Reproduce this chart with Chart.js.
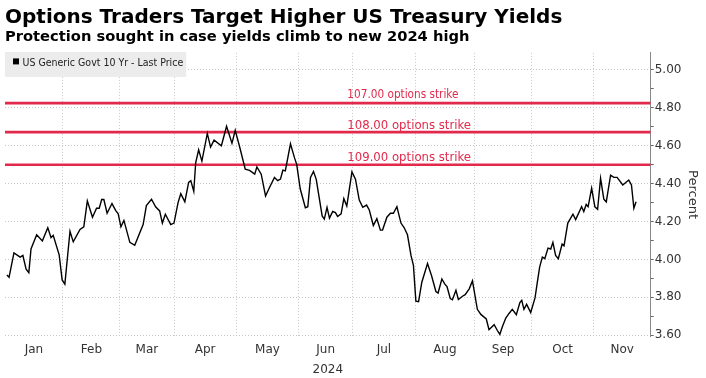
<!DOCTYPE html>
<html>
<head>
<meta charset="utf-8">
<script src="https://cdn.jsdelivr.net/npm/chart.js@4/dist/chart.umd.min.js"></script>
<style>
html,body{margin:0;padding:0;background:#fff;}
#wrap{width:706px;height:378px;}
</style>
</head>
<body>
<div id="wrap"><canvas id="c" width="706" height="378"></canvas></div>
<script>
// ---- data (x = weekday index from 1 Jan 2024, y = yield %) ----
const tradeDay = [
  2.3,3.1,4.9,7.2,8.2,9.4,10.4,11.2,13.3,15.4,
  17.4,18.6,19.4,21.6,22.7,23.7,25.6,26.8,29.3,30.7,
  32.0,33.9,35.4,36.4,37.3,38.1,39.3,41.1,42.5,43.4,
  44.4,45.5,47.7,49.5,52.6,53.8,55.7,57.2,58.7,59.7,
  60.8,62.8,64.0,65.5,66.5,68.0,69.4,70.2,71.3,72.0,
  73.1,74.3,76.3,77.5,78.8,81.5,83.4,85.4,86.6,88.2,
  90.3,91.9,93.8,94.6,96.2,97.8,99.3,101.1,102.3,103.3,
  104.2,105.1,107.0,108.5,109.3,110.6,112.5,113.4,114.4,115.5,
  116.5,118.7,119.5,120.5,121.4,122.6,123.6,124.4,125.7,126.7,
  127.8,129.7,131.0,132.4,133.7,135.1,136.1,137.6,138.9,140.2,
  141.0,142.6,143.9,145.0,146.3,147.8,149.0,150.2,151.5,152.4,
  153.3,154.3,155.5,157.6,159.1,160.7,161.5,162.9,164.0,164.8,
  166.0,166.8,168.1,169.0,170.5,171.5,173.0,174.2,176.0,177.3,
  179.3,180.3,182.2,183.4,184.3,185.2,186.5,187.7,188.9,190.4,
  191.7,192.4,193.2,194.2,195.7,197.3,198.1,199.0,200.0,200.9,
  202.1,203.1,203.9,204.9,205.9,207.3,208.0,209.4,211.3,212.3,
  214.5,215.3,216.2,216.9,218.2,219.4,220.4,221.5,222.7,223.6,
  225.2,226.4,227.6,229.7,231.9,232.9,233.8,234.6
];
const yield10y = [
  3.918,3.906,4.035,4.012,4.021,3.948,3.930,4.055,4.130,4.098,
  4.167,4.115,4.127,4.024,3.892,3.870,4.149,4.093,4.158,4.172,
  4.309,4.223,4.270,4.270,4.316,4.316,4.244,4.295,4.258,4.241,
  4.172,4.206,4.090,4.075,4.184,4.284,4.318,4.278,4.256,4.192,
  4.239,4.184,4.192,4.300,4.347,4.304,4.407,4.416,4.359,4.510,
  4.579,4.519,4.665,4.593,4.630,4.600,4.703,4.613,4.682,4.596,
  4.476,4.470,4.450,4.488,4.450,4.335,4.381,4.433,4.416,4.424,
  4.471,4.467,4.610,4.536,4.502,4.373,4.273,4.278,4.433,4.464,
  4.424,4.230,4.213,4.275,4.218,4.253,4.247,4.227,4.241,4.321,
  4.282,4.462,4.424,4.313,4.275,4.287,4.261,4.179,4.215,4.155,
  4.155,4.223,4.244,4.244,4.278,4.192,4.167,4.130,4.021,3.969,
  3.780,3.777,3.880,3.978,3.914,3.831,3.823,3.897,3.870,3.857,
  3.794,3.787,3.837,3.789,3.806,3.814,3.845,3.887,3.737,3.710,
  3.686,3.629,3.656,3.625,3.605,3.643,3.691,3.715,3.737,3.708,
  3.772,3.784,3.737,3.763,3.720,3.797,3.875,3.960,4.012,4.004,
  4.060,4.055,4.090,4.021,4.004,4.081,4.072,4.192,4.239,4.210,
  4.278,4.253,4.290,4.278,4.376,4.278,4.265,4.428,4.318,4.304,
  4.445,4.433,4.433,4.393,4.419,4.393,4.270,4.304
];
const seriesName = 'US Generic Govt 10 Yr - Last Price';
const monthNames = ['Jan','Feb','Mar','Apr','May','Jun','Jul','Aug','Sep','Oct','Nov'];
const monthStart = [0,23,44,64,87,110,130,153,175,196,219,240];
const yearLabel = '2024';
const strikeNames = ['107.00 options strike','108.00 options strike','109.00 options strike'];
const strikeYields = [4.825, 4.672, 4.50];
const yTickValues = [3.6,3.7,3.8,3.9,4.0,4.1,4.2,4.3,4.4,4.5,4.6,4.7,4.8,4.9,5.0];

// ---- axis limits ----
const X_MIN = 1.6, X_MAX = 240;
const Y_MIN = 3.595, Y_MAX = 5.09;

const FONT = "'DejaVu Sans', sans-serif";
const FONT_C = "'DejaVu Sans Condensed', 'DejaVu Sans', sans-serif";
const RED = '#e2294c';

const boundaryTicks = monthStart.filter(v => v > X_MIN && v <= X_MAX);
const midTicks = monthNames.map((m, i) => (Math.max(monthStart[i], X_MIN) + monthStart[i + 1]) / 2);
const isBoundary = v => boundaryTicks.some(b => Math.abs(b - v) < 1e-6);
const isMajorY = v => Math.round(v * 10) % 2 === 0;

const lineData = tradeDay.map((d, i) => ({x: d, y: yield10y[i]}));
const strikeSets = strikeNames.map((n, i) => ({
  label: n,
  data: [{x: X_MIN, y: strikeYields[i]}, {x: X_MAX, y: strikeYields[i]}],
  borderColor: RED,
  backgroundColor: RED,
  borderWidth: 2.6,
  pointRadius: 0,
  tension: 0
}));

const strikeLabelPlugin = {
  id: 'strikeLabels',
  afterDatasetsDraw(chart, args, o) {
    const {ctx, scales: {x, y}} = chart;
    ctx.save();
    ctx.fillStyle = o.color;
    ctx.textAlign = 'left';
    ctx.textBaseline = 'alphabetic';
    strikeNames.forEach((name, i) => {
      ctx.font = o.fonts[i];
      ctx.fillText(name, x.getPixelForValue(o.xValue), y.getPixelForValue(strikeYields[i]) - o.gaps[i]);
    });
    ctx.restore();
  }
};

const legendBoxPlugin = {
  id: 'legendBox',
  afterDatasetsDraw(chart, args, o) {
    const {ctx, chartArea} = chart;
    const ds = chart.data.datasets[0];
    ctx.save();
    ctx.font = o.font;
    const tw = ctx.measureText(ds.label).width;
    const x0 = chartArea.left, y0 = chartArea.top - 1;
    const w = o.padLeft + o.box + o.gap + tw + o.padRight;
    ctx.fillStyle = o.bg;
    ctx.fillRect(x0, y0, w, o.height);
    ctx.fillStyle = '#000';
    ctx.fillRect(x0 + o.padLeft, y0 + o.boxTop, o.box, o.box);
    ctx.fillStyle = o.color;
    ctx.textBaseline = 'middle';
    ctx.textAlign = 'left';
    ctx.fillText(ds.label, x0 + o.padLeft + o.box + o.gap, y0 + o.textMid);
    ctx.restore();
  }
};

new Chart(document.getElementById('c'), {
  type: 'line',
  data: {
    datasets: [
      {
        label: seriesName,
        data: lineData,
        borderColor: '#000',
        backgroundColor: '#000',
        borderWidth: 1.4,
        pointRadius: 0,
        tension: 0
      },
      ...strikeSets
    ]
  },
  options: {
    responsive: false,
    animation: false,
    devicePixelRatio: 1,
    layout: {padding: {left: 5, right: 4, top: 0, bottom: 1}},
    plugins: {
      legend: {display: false},
      tooltip: {enabled: false},
      title: {
        display: true,
        text: 'Options Traders Target Higher US Treasury Yields',
        align: 'start',
        color: '#000',
        font: {family: FONT, size: 20, weight: 'bold', lineHeight: 1.15},
        padding: {top: 6, bottom: 0}
      },
      subtitle: {
        display: true,
        text: 'Protection sought in case yields climb to new 2024 high',
        align: 'start',
        color: '#000',
        font: {family: FONT, size: 14.7, weight: 'bold', lineHeight: 1.15},
        padding: {top: 0, bottom: 7}
      },
      strikeLabels: {
        color: RED,
        xValue: 128,
        fonts: ['11.7px ' + FONT_C, '13px ' + FONT_C, '13px ' + FONT_C],
        gaps: [5, 3.5, 3.5]
      },
      legendBox: {
        font: '10.5px ' + FONT_C,
        color: '#222',
        bg: '#ececec',
        padLeft: 8, box: 6, gap: 3.5, padRight: 3,
        height: 25, boxTop: 6.5, textMid: 11.5
      }
    },
    scales: {
      x: {
        type: 'linear',
        min: X_MIN,
        max: X_MAX,
        afterBuildTicks: (s) => {
          s.ticks = [...boundaryTicks, ...midTicks].sort((a, b) => a - b).map(v => ({value: v}));
        },
        ticks: {
          autoSkip: false,
          maxRotation: 0,
          padding: 6,
          color: '#333',
          font: {family: FONT, size: 12},
          callback: (v) => {
            const i = midTicks.findIndex(m => Math.abs(m - v) < 1e-6);
            return i >= 0 ? monthNames[i] : '';
          }
        },
        grid: {
          drawTicks: false,
          lineWidth: 1,
          color: (c) => (c.tick && isBoundary(c.tick.value)) ? '#c8c8c8' : 'rgba(0,0,0,0)'
        },
        border: {display: false, dash: [1, 2]},
        title: {
          display: true,
          text: yearLabel,
          color: '#333',
          font: {family: FONT, size: 12},
          padding: {top: 0, bottom: 0}
        }
      },
      y: {
        type: 'linear',
        position: 'right',
        min: Y_MIN,
        max: Y_MAX,
        afterBuildTicks: (s) => { s.ticks = yTickValues.map(v => ({value: v})); },
        ticks: {
          autoSkip: false,
          padding: 1,
          color: '#333',
          font: {family: FONT, size: 12},
          callback: (v) => isMajorY(v) ? Number(v).toFixed(2) : ''
        },
        grid: {
          drawTicks: true,
          tickLength: 3,
          tickColor: '#666',
          lineWidth: 1,
          color: (c) => (c.tick && isMajorY(c.tick.value)) ? '#c8c8c8' : 'rgba(0,0,0,0)'
        },
        border: {display: true, color: '#888', width: 1, dash: [1, 2]},
        title: {
          display: true,
          text: 'Percent',
          color: '#333',
          font: {family: FONT, size: 13},
          padding: {top: 2, bottom: 2}
        }
      }
    }
  },
  plugins: [strikeLabelPlugin, legendBoxPlugin]
});
</script>
</body>
</html>
